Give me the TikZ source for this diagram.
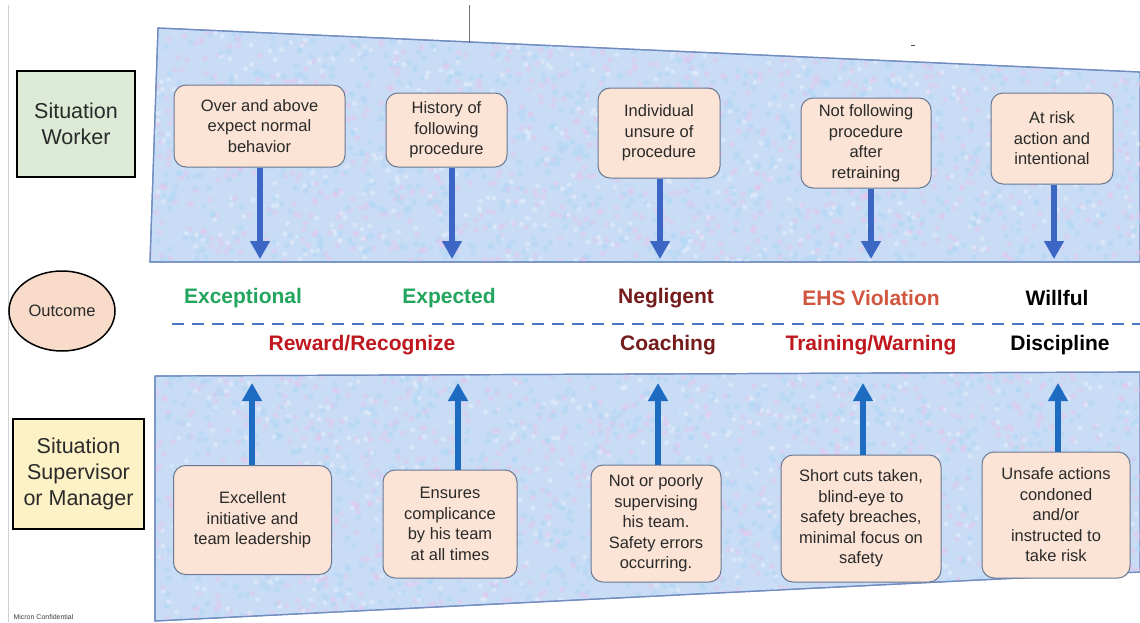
\documentclass[tikz,border=0pt]{standalone}
\usepackage{fontspec}
\setmainfont{Liberation Sans}
\usetikzlibrary{arrows.meta,shapes.geometric}
\definecolor{panelblue}{HTML}{C8DCF5}
\definecolor{panelline}{HTML}{6F8CC0}
\definecolor{dotpink}{HTML}{E2C8EE}
\definecolor{dotblue}{HTML}{B0D8F6}
\definecolor{dotwhite}{HTML}{E8F0FB}
\definecolor{boxfill}{HTML}{FBE4D5}
\definecolor{boxline}{HTML}{6A7892}
\definecolor{txtgrey}{HTML}{2A2A2A}
\definecolor{arrowblue}{HTML}{3B66C4}
\definecolor{arrowblueb}{HTML}{1E6CC2}
\definecolor{dashblue}{HTML}{4A74C4}
\definecolor{okgreen}{HTML}{22A55C}
\definecolor{darkred}{HTML}{741B1B}
\definecolor{salmon}{HTML}{D0563F}
\definecolor{brightred}{HTML}{C0161E}
\definecolor{workergreen}{HTML}{DCEAD6}
\definecolor{supyellow}{HTML}{FDF1C6}
\definecolor{outpeach}{HTML}{F8DCC9}
\begin{document}
\begin{tikzpicture}[x=1pt,y=-1pt,
  panel/.style={fill=panelblue, draw=panelline, line width=1.2pt},
  sbox/.style={draw=boxline, fill=boxfill, rounded corners=12pt, line width=1pt,
    align=center, font=\fontsize{16.5}{20.5}\selectfont, text=txtgrey, inner sep=0pt},
  sitbox/.style={draw=black, line width=2pt, align=center,
    font=\fontsize{21.5}{26}\selectfont, text=txtgrey, inner sep=0pt},
  arr/.style={draw=arrowblue, line width=6pt, -{Triangle[width=19pt,length=18pt]}},
  arrb/.style={arr, draw=arrowblueb},
  outlbl/.style={font=\fontsize{21}{24}\selectfont\bfseries}]
\useasboundingbox (0,0) rectangle (1140,622);
\fill[white] (0,0) rectangle (1140,622);
\draw[black!18, line width=1pt] (8,5) -- (8,622);
% panels
\draw[panel] (158,28) -- (1140,72) -- (1140,262) -- (150,262) -- cycle;
\draw[panel] (155,376) -- (1140,372) -- (1140,572) -- (155,621) -- cycle;
\pgfmathsetseed{7}
\begin{scope}
\clip (158,28) -- (1140,72) -- (1140,262) -- (150,262) -- cycle;
\foreach \i in {1,...,2600}{
  \pgfmathsetmacro{\px}{150+990*rnd}
  \pgfmathsetmacro{\py}{28+234*rnd}
  \pgfmathsetmacro{\pc}{rnd}
  \ifdim\pc pt<0.4pt
    \fill[dotpink, opacity=0.5] (\px,\py) circle (3);
  \else\ifdim\pc pt<0.8pt
    \fill[dotblue, opacity=0.5] (\px,\py) circle (3);
  \else
    \fill[dotwhite, opacity=0.5] (\px,\py) circle (2.5);
  \fi\fi
}
\end{scope}
\begin{scope}
\clip (155,376) -- (1140,372) -- (1140,572) -- (155,621) -- cycle;
\foreach \i in {1,...,2600}{
  \pgfmathsetmacro{\px}{155+985*rnd}
  \pgfmathsetmacro{\py}{372+250*rnd}
  \pgfmathsetmacro{\pc}{rnd}
  \ifdim\pc pt<0.4pt
    \fill[dotpink, opacity=0.5] (\px,\py) circle (3);
  \else\ifdim\pc pt<0.8pt
    \fill[dotblue, opacity=0.5] (\px,\py) circle (3);
  \else
    \fill[dotwhite, opacity=0.5] (\px,\py) circle (2.5);
  \fi\fi
}
\end{scope}
\draw[panelline, line width=1.2pt] (158,28) -- (1140,72) (1140,262) -- (150,262) -- (158,28);
\draw[panelline, line width=1.2pt] (155,376) -- (1140,372) (1140,572) -- (155,621) -- (155,376);
% small marks at top
\draw[black!55, line width=0.8pt] (469,5) -- (469,43);
\draw[black!70, line width=0.8pt] (911,45) -- (915,45);
% left labels
\node[sitbox, fill=workergreen, minimum width=118pt, minimum height=106pt] (sw) at (76,124) {Situation\\Worker};
\node[sitbox, fill=supyellow, minimum width=131pt, minimum height=110pt] (ss) at (78.5,474) {Situation\\Supervisor\\or Manager};
\node[draw=black, line width=1.5pt, fill=outpeach, ellipse, minimum width=106pt, minimum height=80pt,
  font=\fontsize{16.5}{18}\selectfont, text=txtgrey, inner sep=0pt] (oc) at (62,311) {Outcome};
% worker boxes
\node[sbox, minimum width=171pt, minimum height=82pt] (w1) at (259.5,126) {Over and above\\expect normal\\behavior};
\node[sbox, minimum width=121pt, minimum height=74pt] (w2) at (446.5,130) {History of\\following\\procedure};
\node[sbox, minimum width=122pt, minimum height=90pt] (w3) at (659,133) {Individual\\unsure of\\procedure};
\node[sbox, minimum width=130pt, minimum height=90pt] (w4) at (866,143) {Not following\\procedure\\after\\retraining};
\node[sbox, minimum width=122pt, minimum height=91pt] (w5) at (1052,138.5) {At risk\\action and\\intentional};
% supervisor boxes
\node[sbox, minimum width=158pt, minimum height=109pt] (s1) at (252.5,520) {Excellent\\initiative and\\team leadership};
\node[sbox, minimum width=134pt, minimum height=108pt] (s2) at (450,524) {Ensures\\complicance\\by his team\\at all times};
\node[sbox, minimum width=130pt, minimum height=117pt] (s3) at (656,523.5) {Not or poorly\\supervising\\his team.\\Safety errors\\occurring.};
\node[sbox, minimum width=160pt, minimum height=127pt] (s4) at (861,518.5) {Short cuts taken,\\blind-eye to\\safety breaches,\\minimal focus on\\safety};
\node[sbox, minimum width=148pt, minimum height=126pt] (s5) at (1056,515) {Unsafe actions\\condoned\\and/or\\instructed to\\take risk};
% arrow ends
\coordinate (t1) at (260,259);
\coordinate (t2) at (452,259);
\coordinate (t3) at (660,259);
\coordinate (t4) at (871,259);
\coordinate (t5) at (1054,259);
\coordinate (b1) at (252,383);
\coordinate (b2) at (458,383);
\coordinate (b3) at (658,383);
\coordinate (b4) at (863,383);
\coordinate (b5) at (1058,383);
\draw[arr] (w1.south -| t1) -- (t1);
\draw[arr] (w2.south -| t2) -- (t2);
\draw[arr] (w3.south -| t3) -- (t3);
\draw[arr] (w4.south -| t4) -- (t4);
\draw[arr] (w5.south -| t5) -- (t5);
\draw[arrb] (s1.north -| b1) -- (b1);
\draw[arrb] (s2.north -| b2) -- (b2);
\draw[arrb] (s3.north -| b3) -- (b3);
\draw[arrb] (s4.north -| b4) -- (b4);
\draw[arrb] (s5.north -| b5) -- (b5);
% dashed line
\coordinate (d0) at (172,324);
\coordinate (d1) at (1140,324);
\draw[dashblue, line width=2.5pt, dash pattern=on 12pt off 8pt] (d0) -- (d1);
% outcome labels
\node[outlbl, text=okgreen] (o1) at (243,298) {Exceptional};
\node[outlbl, text=okgreen] (o2) at (449,298) {Expected};
\node[outlbl, text=darkred] (o3) at (666,298) {Negligent};
\node[outlbl, text=salmon] (o4) at (871,298) {EHS Violation};
\node[outlbl, text=black] (o5) at (1057,298) {Willful};
\node[outlbl, text=brightred] (r1) at (362,345) {Reward/Recognize};
\node[outlbl, text=darkred] (r2) at (668,345) {Coaching};
\node[outlbl, text=brightred] (r3) at (871,345) {Training/Warning};
\node[outlbl, text=black] (r4) at (1060,345) {Discipline};
\node[font=\fontsize{7}{8}\selectfont, text=black!75, anchor=west] (mc) at (10,617) {Micron Confidential};
\end{tikzpicture}
\end{document}
